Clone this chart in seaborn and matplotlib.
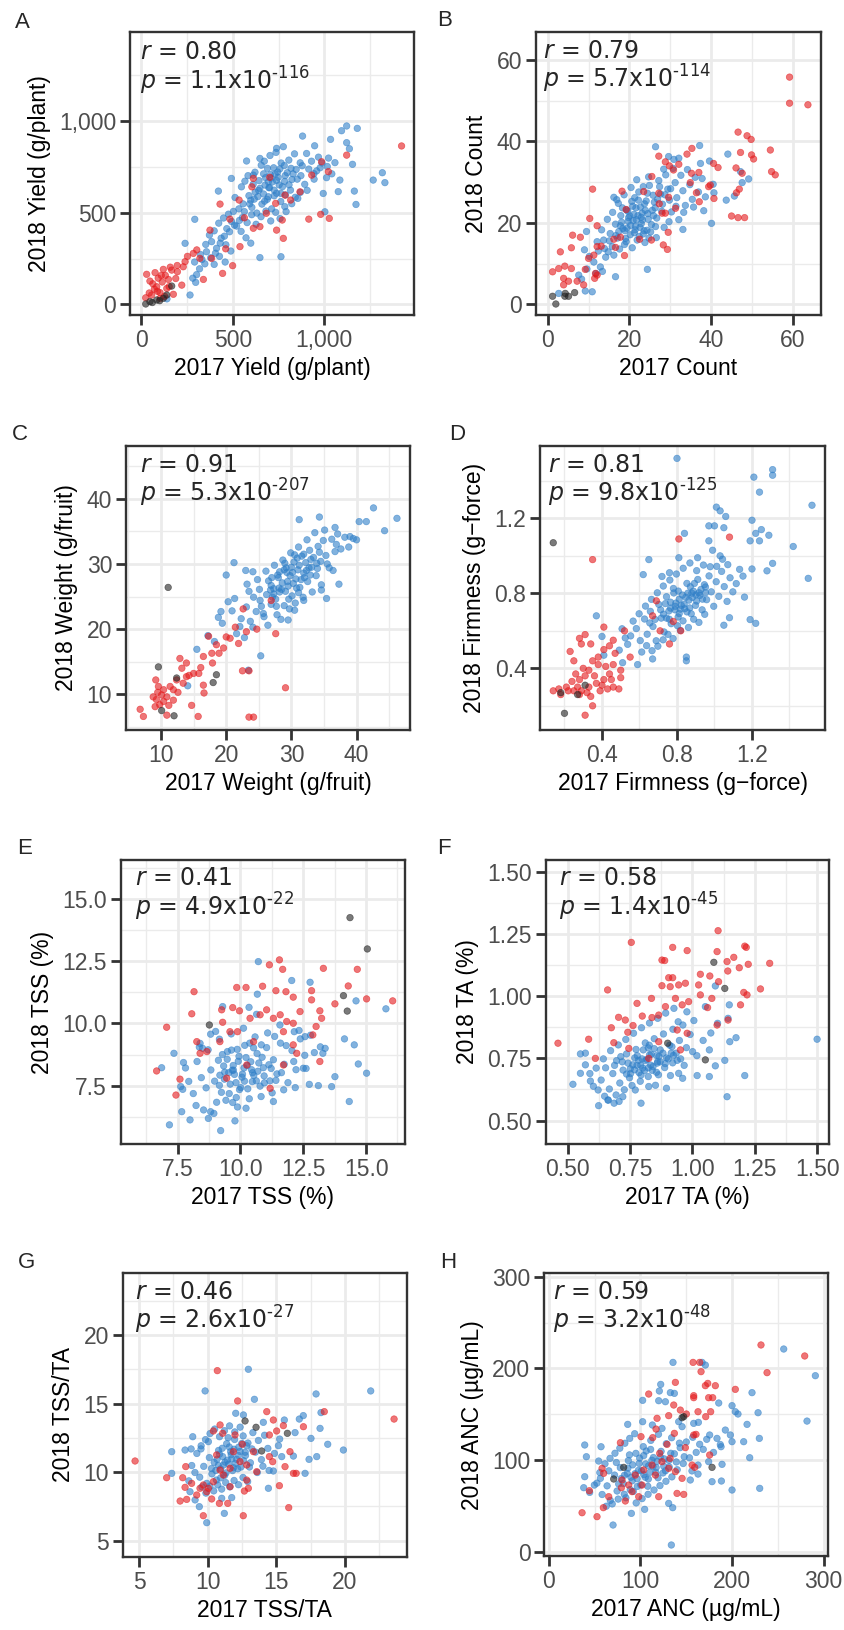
import matplotlib
matplotlib.use('Agg')  # no display
import pandas as pd
import matplotlib.pyplot as plt
from matplotlib.ticker import AutoMinorLocator
import seaborn as sns

# ---- data (2017 value, 2018 value) ----
# blue = main set, red = second set, black = checks

yield_blue = [(1122,973),(1180,960),(1094,947),(881,918),(1034,900),(1122,882),(1137,849),(947,865),(1267,678),
    (1317,718),(1331,664),(1173,545),(1164,618),(1058,773),(1154,764),(1085,678),(1076,615),(994,605),(1003,505),
    (648,255),(763,260),(266,51),(297,120),(239,333),(292,464),(421,618),(492,687),(575,782),(648,796),(739,851),
    (776,860),(612,705),(140,30),
    (512,583),(547,641),(583,702),(611,655),(637,588),(668,712),(694,668),(723,745),(748,693),(771,642),(797,718),
    (823,681),(846,736),(872,702),(893,655),(915,738),(604,529),(631,498),(659,547),(688,573),(712,521),(739,606),
    (762,561),(788,597),(815,623),(841,584),(869,611),(552,473),(578,446),(603,489),(627,437),(654,478),(681,509),
    (707,455),(734,502),(758,468),(784,533),(467,413),(493,452),(521,427),(545,398),(572,363),(598,334),(436,361),
    (462,325),(489,291),(411,306),(384,342),(356,287),(331,245),(398,218),(427,262),(458,231),(672,781),(703,812),
    (736,829),(764,771),(806,787),(837,821),(868,772),(903,823),(958,728),(987,771),(1012,691),(944,683),(906,622),
    (855,578),(822,549),(791,506),(726,592),(697,636),(643,675),(588,593),(556,548),(533,521),(503,507),(476,492),
    (449,471),(423,443),(398,401),(372,378),(566,672),(621,721),(655,759),(689,742),(930,781),(968,803),(1016,752),
    (1041,712),(879,756),(852,683),(818,742),(781,757),(745,722),(709,689),(676,651),(641,622),(617,574),(592,548),
    (563,506),(536,458),(509,432),(482,396),(454,372),(431,334),(405,279),(379,254),(347,221),(318,194),(302,162),
    (281,143),(352,327),(323,272),(291,231),(943,713),(977,745),(1023,798),
    (668,602),(701,637),(726,623),(753,652),(694,587),(739,676),(763,605),(716,668),(783,671),(648,633),(679,691),
    (731,711),(807,652),(674,563),(757,739),(829,712),(786,702),(622,612),(598,568),(705,709)]
yield_red = [(1422,864),(1122,814),(985,778),(1022,724),(931,705),(915,465),(980,491),(1027,469),(776,360),(739,405),
    (444,169),(499,211),(339,136),(29,164),(75,173),(120,191),(166,187),(229,205),(239,233),(221,105),(175,55),
    (139,87),(84,96),(56,51),(24,36),(102,64),(148,136),(430,547),(534,569),(612,687),(648,424),(612,415),(484,465),
    (375,405),(320,251),(384,251),(539,315),(284,278),(867,614),(816,569),(734,551),(770,460),(785,596),(63,112),
    (92,143),(114,122),(131,158),(71,83),(43,62),(158,203),(197,178),(188,141),(103,33),(127,44),(252,262),
    (303,297),(461,303),(563,472),(683,497),(604,641),(702,693),(47,127),(88,71),(109,158),(152,97),(196,212)]
yield_black = [(24,2),(47,15),(84,24),(120,33),(166,100),(139,51),(60,10),(100,20)]

count_blue = [(26.4,38.7),(37.2,39.0),(29.6,36.3),(32.1,35.9),(44.1,36.9),(39.6,35.2),(37.4,34.6),(47.2,32.6),
    (49.2,30.8),(47.6,29.9),(40.5,29.5),(40.7,27.4),(43.7,25.6),(45.7,26.6),(40.1,19.9),(33.1,18.4),(38.2,23.0),
    (16.2,26.3),(24.4,8.6),(16.6,6.8),(9.2,3.3),(10.9,3.1),(2.7,2.7),(9.5,17.9),(9.0,13.4),(7.6,7.2),
    (12.4,13.1),(13.7,15.8),(14.2,11.6),(15.3,17.4),(15.8,14.2),(16.6,19.7),(17.1,16.3),(17.9,21.8),(18.4,18.6),
    (18.8,14.7),(19.3,23.2),(19.7,20.4),(20.2,17.1),(20.6,25.3),(21.1,22.1),(21.5,19.2),(21.9,15.8),(22.3,27.6),
    (22.7,23.9),(23.2,20.7),(23.6,18.1),(24.1,25.4),(24.5,22.3),(24.9,29.2),(25.4,19.6),(25.8,26.8),(26.3,23.7),
    (26.7,21.2),(27.2,30.4),(27.6,27.1),(28.1,24.6),(28.5,18.9),(28.9,31.8),(29.4,28.3),(29.8,25.6),(30.3,22.7),
    (30.7,33.4),(31.2,29.9),(31.6,26.2),(32.1,20.8),(32.6,31.7),(33.1,27.9),(33.7,24.3),(34.2,33.1),(34.8,29.4),
    (35.4,25.8),(36.1,31.2),(36.9,27.6),(37.8,30.9),(38.6,26.4),(13.2,18.3),(14.6,20.9),(15.9,22.6),(17.3,24.8),
    (18.7,26.9),(20.4,28.7),(21.8,30.6),(11.3,10.4),(12.9,9.2),(14.8,12.9),(16.2,12.1),(17.6,13.6),(19.1,16.2),
    (20.7,13.9),(22.4,16.7),(23.8,15.2),(25.2,17.8),(26.6,16.4),(10.2,11.8),(9.6,8.7),(11.8,7.6),(13.4,8.1),
    (8.3,6.2),(12.1,15.4),(16.9,25.7),(19.8,21.3),(22.9,19.8),(24.3,18.2),(26.1,25.1),(27.9,22.9),(29.7,20.3),
    (31.4,24.1),(33.3,22.6),(35.7,23.9),(21.3,26.2),(23.4,28.9),(18.1,20.2),(15.1,15.6),(13.9,13.7),(24.7,31.3),
    (28.4,33.2),(30.9,35.6),(20.9,20.6),(22.1,21.8),(19.4,18.7),(23.9,23.1),(17.4,17.9),(21.6,23.7),
    (20.3,19.4),(21.7,20.8),(22.6,18.9),(23.1,22.4),(19.6,22.9),(21.2,17.6),(24.6,20.9),(20.8,24.1),(22.2,25.6),
    (18.9,18.1),(23.7,24.7),(25.6,23.1),(26.9,25.8),(19.2,15.4),(17.8,19.3),(24.4,27.3),(27.4,28.9),(22.9,21.4),
    (21.4,18.3),(20.1,21.7),(23.4,17.3),(25.9,21.8),(18.3,23.7),(16.7,16.9),(28.7,26.9),(30.1,28.4),(26.4,19.1),
    (24.8,16.3)]
count_red = [(59.2,55.8),(59.2,49.4),(63.7,49.0),(46.6,42.3),(48.8,41.4),(49.8,40.5),(54.5,37.9),(49.9,36.7),
    (50.4,35.7),(47.2,37.3),(54.8,32.6),(55.7,31.8),(46.1,33.5),(47.6,32.2),(46.9,28.3),(46.2,27.4),(45.0,21.7),
    (46.6,21.3),(48.2,21.3),(40.6,34.6),(41.7,33.6),(40.7,26.0),(39.8,29.3),(39.4,28.9),(35.3,38.3),(34.1,36.9),
    (32.1,34.4),(30.8,33.0),(27.2,36.4),(28.8,35.0),(29.8,34.0),(37.0,32.4),(35.2,32.2),(36.4,27.4),(37.1,25.2),
    (34.9,29.9),(11.0,28.3),(18.2,27.8),(10.3,21.1),(12.1,19.3),(6.1,17.0),(8.0,16.5),(5.8,13.9),(3.1,12.9),
    (1.2,8.0),(2.7,8.8),(4.2,9.4),(5.8,8.8),(3.9,6.4),(5.1,5.7),(3.9,4.8),(7.2,5.7),(8.8,4.8),(9.2,8.6),
    (10.0,11.3),(11.3,12.1),(11.7,7.6),(11.5,6.4),(12.1,7.2),(12.1,14.2),(13.1,14.3),(16.2,16.0),(16.6,14.0),
    (18.8,12.0),(19.2,23.3),(17.8,16.5),(22.5,16.0),(25.4,15.8),(28.3,14.6),(29.3,13.5),(29.5,17.7),(28.0,22.4),
    (27.3,24.7),(29.6,26.3),(28.8,22.4),(31.3,23.6),(27.2,27.3),(23.5,27.7),(25.5,31.4)]
count_black = [(1.2,2.0),(2.0,0.1),(4.2,2.0),(5.1,2.0),(6.6,2.9),(4.3,2.7)]

weight_blue = [(42.6,38.6),(46.2,37.0),(40.4,36.5),(41.5,36.5),(34.3,37.2),(31.2,36.8),(44.3,35.1),(36.7,35.6),
    (40.0,33.7),(39.0,34.2),(21.2,30.2),(20.0,28.3),(23.0,29.0),(24.1,28.8),(23.2,26.9),(37.3,26.9),(34.6,26.0),
    (35.4,24.7),(20.3,24.2),(18.8,21.8),(19.2,22.7),(25.3,15.9),(15.5,16.9),(17.2,19.0),(14.1,11.3),(23.4,13.7),
    (29.5,21.4),(30.5,22.9),(31.9,24.4),
    (22.3,21.6),(23.1,23.4),(23.7,21.2),(24.2,24.9),(24.6,22.7),(25.1,26.1),(25.4,23.5),(25.8,21.9),(26.2,25.3),
    (26.5,27.4),(26.9,23.8),(27.3,26.2),(27.6,24.6),(27.9,28.3),(28.2,25.7),(28.6,27.1),(28.9,23.6),(29.2,29.4),
    (29.5,26.6),(29.8,28.2),(30.1,25.1),(30.4,30.3),(30.7,27.7),(31.0,29.1),(31.3,26.4),(31.6,31.2),(31.9,28.6),
    (32.2,30.2),(32.5,27.3),(32.8,32.1),(33.1,29.5),(33.4,31.0),(33.8,28.2),(34.1,32.7),(34.5,30.4),(34.9,33.6),
    (35.3,31.3),(35.8,29.4),(36.2,33.8),(36.7,31.9),(37.1,34.6),(37.6,32.3),(38.2,34.1),(38.8,32.6),(39.5,33.9),
    (21.6,19.3),(22.8,18.7),(20.9,22.8),(24.1,20.3),(25.7,22.4),(26.4,20.6),(27.8,22.2),(28.4,21.5),(29.7,23.1),
    (30.6,24.0),(31.8,24.9),(33.2,25.7),(34.6,26.8),(23.5,25.8),(24.8,27.6),(26.1,28.9),(27.4,29.8),(28.7,30.6),
    (29.9,31.7),(31.1,32.6),(32.4,33.7),(33.6,34.8),(35.1,35.2),(26.8,26.0),(28.0,27.9),(30.2,28.7),(32.0,27.9),
    (33.9,30.1),(35.5,30.0),(36.4,29.0),(25.2,24.4),(27.1,24.9),(29.1,25.8),(31.5,27.6),(19.4,20.9),(18.2,18.1),
    (21.3,24.7),(22.1,20.4),(36.9,33.0),(34.3,31.8),(28.1,26.3),(30.9,30.9),(32.7,29.4),(27.0,27.9),(29.4,27.3),
    (29.3,28.7),(30.3,27.0),(31.2,29.8),(28.5,26.1),(27.3,25.4),(32.3,29.0),(30.8,26.3),(29.0,30.1),(33.0,30.7),
    (31.9,31.5),(28.2,28.8),(26.9,26.7),(30.0,29.5),(34.0,29.3),(27.7,23.5),(29.6,24.6),(32.9,28.3),(31.1,25.6),
    (30.5,31.4),(28.9,29.1)]
weight_red = [(9.6,11.2),(9.2,12.2),(9.8,8.4),(6.8,7.7),(7.3,6.6),(10.9,6.8),(12.9,15.5),(13.2,14.0),(12.4,12.2),
    (14.7,8.3),(15.7,6.6),(16.5,11.4),(16.6,10.2),(17.3,18.9),(18.5,17.6),(18.9,16.3),(20.0,18.8),(21.4,20.3),
    (22.6,23.1),(22.5,13.6),(23.5,13.6),(23.5,6.5),(24.2,6.5),(29.1,11.0),(27.6,19.3),(26.9,24.4),(24.7,20.0),
    (23.1,19.6),(21.9,17.8),(20.6,18.6),(19.6,17.1),(17.8,16.3),(16.5,15.8),(15.0,13.2),(13.9,12.7),(13.4,11.7),
    (11.9,10.7),(10.9,9.6),(10.4,8.9),(8.8,9.6),(9.1,8.1),(11.4,11.2),(10.4,10.7),(9.3,9.2),(11.9,9.1),
    (13.9,14.8),(15.8,13.2),(17.9,14.8),(10.1,9.9),(11.2,8.3),(12.6,10.3),(14.3,12.9),(16.1,14.1),(9.5,10.3)]
weight_black = [(9.6,14.2),(11.1,26.4),(12.4,12.5),(18.5,13.0),(18.0,11.8),(10.1,7.5),(12.0,6.7)]

firm_blue = [(0.80,1.52),(1.31,1.46),(1.31,1.43),(1.21,1.42),(1.24,1.34),(1.52,1.27),(1.01,1.26),(1.03,1.24),
    (1.06,1.21),(0.97,1.16),(1.00,1.16),(1.05,1.15),(1.20,1.19),(1.25,1.14),(1.22,1.12),(1.29,1.11),(0.84,1.12),
    (1.19,1.08),(1.24,1.08),(1.42,1.05),(1.31,0.96),(1.28,0.92),(1.50,0.88),(1.20,0.93),(1.16,0.78),(1.19,0.66),
    (1.22,0.64),(1.08,0.67),(1.05,0.63),(0.65,0.98),(0.62,0.90),(0.81,0.99),(0.37,0.68),(0.41,0.47),(0.59,0.42),
    (0.51,0.43),(0.40,0.57),(0.85,0.46),(0.85,0.44),(0.67,0.45),(0.97,1.08),(0.99,1.03),(1.03,1.00),(0.91,0.99),
    (0.76,0.91),(0.72,0.89),
    (0.583,0.612),(0.604,0.548),(0.627,0.663),(0.641,0.582),(0.658,0.704),(0.672,0.623),(0.689,0.547),(0.703,0.741),
    (0.716,0.668),(0.731,0.594),(0.744,0.782),(0.757,0.706),(0.769,0.638),(0.781,0.826),(0.794,0.748),(0.806,0.674),
    (0.818,0.602),(0.829,0.791),(0.841,0.718),(0.853,0.853),(0.864,0.764),(0.876,0.691),(0.887,0.812),(0.899,0.736),
    (0.911,0.874),(0.922,0.789),(0.934,0.712),(0.946,0.846),(0.958,0.766),(0.971,0.893),(0.983,0.808),(0.996,0.731),
    (1.009,0.862),(1.023,0.784),(1.038,0.917),(1.052,0.836),(1.067,0.757),(1.083,0.883),(1.098,0.808),(0.612,0.487),
    (0.638,0.521),(0.667,0.494),(0.698,0.518),(0.726,0.552),(0.752,0.581),(0.779,0.559),(0.803,0.627),(0.832,0.653),
    (0.861,0.618),(0.889,0.662),(0.917,0.645),(0.948,0.688),(0.553,0.573),(0.537,0.528),(0.566,0.652),(0.598,0.691),
    (0.632,0.732),(0.664,0.768),(0.695,0.803),(0.727,0.839),(0.762,0.871),(0.797,0.903),(0.833,0.934),(0.869,0.962),
    (0.905,0.921),(0.941,0.951),(0.977,0.942),(0.765,0.753),(0.789,0.712),(0.812,0.769),(0.838,0.742),(0.858,0.801),
    (0.882,0.778),(0.905,0.759),(0.928,0.821),(0.952,0.803),(0.713,0.712),(0.738,0.745),(0.683,0.661),(0.655,0.642),
    (0.524,0.562),(0.507,0.611),(0.492,0.497),(1.116,0.852),(1.134,0.928),(1.152,0.892),(1.071,0.953),(1.043,0.982),
    (1.012,0.944),
    (0.823,0.736),(0.847,0.779),(0.868,0.722),(0.791,0.731),(0.812,0.692),(0.879,0.801),(0.902,0.792),(0.766,0.721),
    (0.744,0.668),(0.853,0.701),(0.917,0.803),(0.936,0.769),(0.783,0.802),(0.807,0.812),(0.728,0.689),(0.871,0.835),
    (0.893,0.853),(0.952,0.834),(0.818,0.716),(0.759,0.662)]
firm_red = [(1.08,1.10),(0.81,1.09),(0.35,0.98),(0.41,0.62),(0.28,0.56),(0.31,0.58),(0.23,0.49),(0.25,0.44),
    (0.41,0.50),(0.46,0.55),(0.44,0.52),(0.47,0.48),(0.50,0.39),(0.50,0.35),(0.49,0.29),(0.31,0.15),(0.35,0.20),
    (0.14,0.28),(0.17,0.29),(0.21,0.30),(0.25,0.28),(0.26,0.37),(0.30,0.40),(0.35,0.44),(0.38,0.42),(0.42,0.41),
    (0.46,0.42),(0.44,0.37),(0.41,0.34),(0.37,0.32),(0.33,0.30),(0.29,0.28),(0.28,0.26),(0.34,0.25),(0.39,0.28),
    (0.43,0.29),(0.46,0.30),(0.31,0.36),(0.28,0.34),(0.22,0.28),(0.18,0.26),(0.55,0.46),(0.52,0.60),(0.69,0.76),
    (0.78,0.65),(0.76,0.53),(0.82,0.60),(0.67,0.68),(0.71,0.60),(0.29,0.53),(0.34,0.53),(0.24,0.33),(0.32,0.27),
    (0.36,0.36),(0.40,0.31),(0.27,0.30),(0.33,0.39),(0.45,0.34),(0.38,0.46)]
firm_black = [(0.14,1.07),(0.18,0.27),(0.27,0.26),(0.20,0.16),(0.31,0.31)]

tss_blue = [(10.71,12.49),(12.04,11.73),(12.77,11.66),(10.67,11.18),(9.29,10.68),(10.34,10.65),(10.64,10.37),
    (14.60,10.91),(15.79,10.59),(14.14,9.38),(14.53,9.14),(14.69,8.37),(15.02,8.00),(13.76,7.86),(13.63,7.46),
    (13.10,7.50),(12.74,7.55),(14.33,6.86),(13.37,9.00),(13.28,8.80),(6.86,8.22),(7.35,8.80),(7.73,8.43),(7.17,5.92),
    (7.66,6.45),(7.99,6.12),(8.72,6.18),(9.21,5.69),(9.78,6.08),(9.69,6.82),(10.22,6.59),(11.31,6.86),(8.23,6.70),
    (8.81,6.45),(7.70,7.35),(8.39,9.20),(8.49,9.00),(8.81,9.57),(12.14,9.67),(12.57,9.47),(12.50,8.20),
    (8.63,7.41),(8.82,8.13),(8.97,7.68),(9.12,8.52),(9.24,7.23),(9.37,8.04),(9.48,8.87),(9.59,7.56),(9.71,8.31),
    (9.83,7.02),(9.94,8.68),(10.06,7.84),(10.17,9.12),(10.29,7.37),(10.41,8.46),(10.53,7.91),(10.66,8.79),
    (10.78,7.48),(10.91,8.22),(11.04,9.03),(11.17,7.69),(11.31,8.54),(11.45,7.97),(11.59,9.21),(11.74,8.36),
    (11.89,7.62),(12.05,8.91),(12.21,8.14),(12.38,9.38),(12.56,8.72),(9.05,6.83),(9.42,6.91),(9.88,6.64),
    (10.35,6.97),(10.82,7.06),(11.26,7.21),(11.72,7.33),(12.18,7.42),(8.44,7.82),(8.27,8.47),(8.12,7.18),
    (7.94,7.67),(8.71,8.94),(9.16,9.37),(9.63,9.58),(10.12,9.81),(10.58,9.46),(11.08,9.62),(11.57,9.94),
    (9.33,8.29),(9.76,7.95),(10.22,8.63),(10.69,8.08),(11.13,8.34),(11.63,8.02),(12.12,8.47),(12.61,8.19),
    (12.94,8.83),(13.18,9.06),(9.55,7.18),(10.01,7.42),(10.47,7.66),(10.94,7.89),(11.41,7.71),(8.53,6.52),
    (8.94,6.38),(7.62,7.46),(7.81,8.21),(8.36,9.05),(9.01,9.68),(9.87,8.96),(10.37,9.21),(10.83,9.14),
    (11.36,9.48),(11.82,9.11),(12.33,9.72),(12.79,9.53),(9.18,7.92),(9.67,8.12),(10.14,8.21),(10.48,8.02),
    (9.72,8.12),(9.91,8.48),(10.08,7.96),(10.27,8.31),(9.53,8.02),(9.82,7.62),(10.44,8.14),(10.63,7.69),
    (9.36,7.76),(9.47,8.56),(10.16,7.68),(9.96,7.34),(10.73,8.41),(10.95,7.61),(9.28,8.75),(10.52,9.02),
    (9.64,8.93),(11.22,8.19),(9.16,7.51),(10.86,8.64)]
tss_red = [(11.55,12.56),(11.15,12.36),(11.68,12.18),(13.30,12.22),(14.65,12.18),(14.29,11.51),(15.02,10.99),
    (16.06,10.91),(13.76,10.79),(8.15,11.28),(8.06,10.39),(7.06,9.85),(6.66,8.09),(7.59,7.76),(7.43,7.12),
    (9.85,11.45),(10.22,11.45),(10.88,11.50),(11.41,11.32),(11.81,11.28),(12.10,11.06),(12.83,11.32),(12.83,10.95),
    (13.16,10.51),(13.23,10.21),(13.01,9.88),(12.88,9.54),(9.69,10.64),(9.96,10.51),(9.25,10.55),(9.29,10.05),
    (9.58,9.67),(9.88,9.67),(10.38,10.21),(10.78,10.35),(11.04,10.55),(11.31,10.21),(11.58,10.35),(11.84,10.08),
    (12.10,10.01),(12.37,10.48),(11.71,9.67),(12.10,9.14),(12.24,8.80),(8.26,9.27),(8.39,8.80),(8.66,8.87),
    (9.18,9.27),(9.45,7.80),(10.25,8.33),(10.52,9.27),(11.18,7.39),(11.71,8.33),(13.16,8.47)]
tss_black = [(14.36,14.26),(15.05,13.0),(14.10,11.12),(14.25,10.5),(8.76,9.94)]

ta_blue = [(1.500,0.827),(1.210,0.681),(1.139,0.596),(1.130,0.742),(1.150,0.817),(1.175,0.833),(1.148,0.965),
    (1.143,0.911),(1.092,0.720),(1.068,0.677),(1.068,0.784),(1.019,0.681),(1.052,0.958),(1.092,1.041),(0.521,0.646),
    (0.551,0.768),(0.571,0.771),(0.551,0.690),(0.591,0.659),(0.622,0.623),(0.624,0.560),(0.662,0.583),(0.686,0.570),
    (0.721,0.596),(0.794,0.570),(0.896,0.630),(0.961,0.670),(0.945,0.690),(1.001,0.777),(0.825,0.637),(0.771,0.623),
    (0.634,0.663),(0.652,0.712),(0.667,0.627),(0.681,0.689),(0.696,0.741),(0.709,0.651),(0.722,0.703),(0.736,0.768),
    (0.748,0.672),(0.761,0.724),(0.774,0.786),(0.786,0.693),(0.798,0.748),(0.811,0.812),(0.823,0.712),(0.835,0.766),
    (0.847,0.829),(0.859,0.731),(0.871,0.784),(0.884,0.848),(0.896,0.752),(0.909,0.803),(0.922,0.867),(0.935,0.771),
    (0.948,0.822),(0.962,0.884),(0.976,0.793),(0.991,0.846),(1.006,0.902),(0.662,0.582),(0.694,0.603),(0.727,0.624),
    (0.758,0.641),(0.791,0.658),(0.823,0.677),(0.856,0.694),(0.889,0.713),(0.921,0.732),(0.953,0.748),(0.614,0.711),
    (0.643,0.748),(0.672,0.781),(0.703,0.804),(0.733,0.826),(0.764,0.851),(0.796,0.873),(0.828,0.892),(0.861,0.911),
    (0.893,0.932),(0.926,0.951),(0.742,0.731),(0.768,0.704),(0.793,0.722),(0.817,0.746),(0.842,0.717),(0.866,0.758),
    (0.891,0.729),(0.915,0.771),(0.939,0.742),(0.589,0.689),(0.571,0.724),(0.603,0.638),(0.648,0.598),(0.706,0.577),
    (0.852,0.642),(0.912,0.681),(0.967,0.722),(1.018,0.761),(1.043,0.822),(1.074,0.852),(1.101,0.891),(0.978,0.937),
    (0.943,0.897),(0.779,0.761),(0.803,0.784),(0.827,0.803),(0.713,0.757),(0.688,0.722),(0.752,0.689),(0.808,0.701),
    (0.861,0.737),(0.924,0.762),
    (0.812,0.741),(0.833,0.723),(0.857,0.761),(0.784,0.742),(0.801,0.711),(0.871,0.736),(0.847,0.789),(0.769,0.752),
    (0.823,0.792),(0.882,0.771),(0.751,0.708),(0.794,0.683),(0.839,0.702),(0.864,0.684),(0.903,0.748),(0.918,0.797),
    (0.736,0.687),(0.719,0.736),(0.778,0.722),(0.828,0.764)]
ta_red = [(1.103,1.263),(0.755,1.216),(0.921,1.196),(0.979,1.183),(1.099,1.179),(0.878,1.145),(0.889,1.143),
    (1.210,1.201),(1.216,1.196),(1.166,1.156),(1.310,1.132),(1.139,1.139),(1.188,1.114),(1.224,1.128),(1.142,1.101),
    (1.273,1.029),(1.206,1.015),(1.219,1.005),(1.193,0.965),(0.905,1.074),(0.921,1.074),(0.878,1.042),(0.911,1.038),
    (0.972,1.052),(0.945,1.045),(1.032,1.088),(1.070,1.081),(1.025,1.045),(1.105,1.058),(1.078,0.991),(0.660,1.025),
    (0.704,0.915),(0.778,0.971),(0.836,0.991),(0.799,0.920),(0.731,0.904),(0.675,0.873),(0.762,0.882),(0.741,0.855),
    (0.461,0.811),(0.584,0.827),(0.611,0.750),(0.685,0.813),(0.838,0.914),(0.865,0.924),(0.892,0.958),(0.932,0.991),
    (0.959,0.965),(0.985,0.978),(1.032,1.005),(1.061,0.954),(1.099,0.884),(1.143,0.904),(0.979,0.851),(0.939,0.864),
    (0.952,0.784),(0.825,0.750),(0.865,0.817),(0.745,0.790)]
ta_black = [(1.086,1.136),(1.130,1.031),(0.901,0.811),(1.052,0.744)]

ratio_blue = [(12.96,17.50),(9.81,15.92),(13.40,15.31),(21.87,15.92),(17.89,15.70),(18.25,14.34),(19.88,11.61),
    (18.74,12.03),(18.18,13.19),(17.94,11.13),(17.09,9.91),(17.38,10.93),(17.52,12.46),(16.96,14.12),(16.67,13.87),
    (16.36,12.88),(16.24,11.17),(12.04,14.29),(8.91,12.58),(7.38,11.49),(7.38,9.91),(8.35,11.61),(8.79,11.69),
    (9.51,11.69),(10.05,12.22),(8.71,8.57),(9.08,7.97),(9.39,7.48),(9.93,6.31),(11.21,6.99),(11.02,8.09),
    (11.75,8.14),(14.42,8.82),(14.78,10.08),(15.39,11.13),(15.15,11.93),(15.58,13.80),(14.05,13.63),(12.60,14.17),
    (9.42,9.63),(9.71,10.42),(9.93,9.18),(10.12,11.06),(10.31,9.87),(10.47,10.71),(10.63,9.42),(10.79,11.58),
    (10.94,10.24),(11.09,11.13),(11.23,9.76),(11.38,12.07),(11.52,10.58),(11.67,11.49),(11.81,10.11),(11.96,12.38),
    (12.11,10.93),(12.26,11.82),(12.42,10.37),(12.58,12.64),(12.75,11.21),(12.93,12.12),(13.11,10.68),(13.29,12.88),
    (13.48,11.46),(13.69,12.31),(13.91,10.91),(14.14,12.69),(14.38,11.73),(9.58,8.92),(9.87,8.47),(10.16,8.98),
    (10.44,8.63),(10.73,9.07),(11.02,8.76),(11.31,9.24),(11.61,8.92),(11.92,9.39),(12.24,9.08),(12.57,9.61),
    (12.91,9.31),(9.21,11.36),(9.52,11.92),(9.84,12.37),(10.17,12.81),(10.51,13.14),(10.86,12.58),(11.22,13.02),
    (11.59,13.37),(11.97,12.93),(12.36,13.28),(10.28,10.26),(10.77,10.49),(11.26,10.73),(11.75,10.97),(12.24,11.21),
    (12.73,11.45),(13.22,11.69),(9.07,9.97),(8.84,10.48),(8.63,9.36),(13.61,9.97),(14.02,10.43),(14.47,10.12),
    (14.86,11.36),(15.24,12.41),
    (11.43,10.87),(11.71,11.27),(12.02,10.64),(11.14,10.51),(11.57,11.83),(12.36,11.51),(10.86,11.31),(11.92,11.67),
    (12.61,10.83),(11.33,9.94),(10.59,10.12),(12.19,10.24),(12.83,11.93),(11.06,11.74),(11.88,10.32),(10.68,10.93),
    (12.48,12.09),(13.04,10.37),(11.49,12.51),(10.94,9.58)]
ratio_red = [(10.70,17.40),(12.18,15.19),(14.30,14.41),(18.49,14.41),(23.57,13.87),(10.90,13.44),(10.41,13.00),
    (11.09,12.83),(11.99,12.71),(14.78,13.80),(15.51,13.39),(16.97,13.31),(15.02,13.00),(14.49,12.71),(12.52,12.03),
    (4.71,10.81),(7.01,9.59),(8.18,9.59),(8.40,10.40),(8.35,8.89),(8.83,9.18),(7.99,7.89),(8.47,8.01),(9.68,6.82),
    (12.59,6.82),(15.90,7.41),(15.22,9.01),(16.24,9.91),(16.44,9.91),(15.63,10.40),(15.99,11.49),(14.73,10.76),
    (14.49,11.13),(13.57,10.03),(12.84,9.42),(12.67,8.62),(12.96,8.82),(11.63,8.94),(11.46,7.72),(10.85,7.72),
    (10.29,8.04),(9.44,8.82),(9.68,9.06),(10.05,8.82),(10.41,9.30),(10.90,10.15),(11.14,9.79),(11.63,10.28),
    (12.35,10.76),(12.84,10.52),(13.33,11.49),(11.87,11.49),(10.65,11.25),(9.93,8.57),(9.20,8.33)]
ratio_black = [(12.72,13.73),(13.52,13.27),(15.80,12.83),(13.93,11.54)]

anc_blue = [(256.4,221.1),(290.9,192.0),(281.8,142.5),(135.6,206.5),(167.3,206.5),(170.9,203.6),(122.2,182.5),
    (120.7,175.3),(132.7,173.5),(137.1,172.7),(221.8,173.5),(102.5,165.1),(120.0,164.7),(127.3,163.6),(185.5,162.2),
    (200.0,159.3),(203.6,152.7),(206.5,150.2),(228.4,151.6),(216.4,138.9),(212.7,120.0),(229.8,123.6),(219.3,102.5),
    (230.2,69.1),(200.0,67.3),(188.4,77.1),(178.2,76.4),(189.1,95.3),(162.9,84.7),(154.5,78.2),(130.9,52.7),
    (135.3,48.0),(133.8,7.3),(70.2,29.1),(90.2,41.8),(104.7,46.2),(39.3,116.4),(41.1,103.6),(39.3,81.8),(38.2,69.8),
    (44.7,64.7),(49.8,72.7),(56.4,80.0),(54.5,98.9),(57.1,114.5),(86.2,138.9),(102.5,141.8),(113.1,138.2),
    (123.6,134.5),(141.8,141.8),(145.5,136.4),(158.2,140.0),(163.3,141.1),(175.6,127.3),(183.6,123.6),(192.7,132.7),
    (198.2,127.3),(200.0,120.0),(188.0,114.5),(174.5,98.2),(162.9,94.5),
    (58.3,62.4),(63.7,71.8),(67.2,55.9),(71.9,83.6),(74.6,66.2),(78.1,91.7),(81.4,74.3),(84.2,58.8),(86.9,99.4),
    (89.7,81.2),(92.3,65.7),(95.1,107.3),(97.8,88.6),(100.4,72.9),(103.2,114.6),(105.9,95.8),(108.7,79.3),
    (111.4,121.4),(114.2,102.7),(116.9,86.4),(119.8,128.1),(122.6,109.5),(125.5,93.2),(128.3,117.8),(131.2,99.6),
    (134.1,124.3),(137.1,106.8),(140.2,89.4),(143.4,113.5),(146.7,96.2),(150.1,119.7),(153.6,102.4),(157.2,124.8),
    (160.9,108.3),(164.7,117.2),(168.6,111.6),(52.6,74.8),(55.8,86.3),(61.4,95.9),(66.9,101.8),(72.3,107.4),
    (77.6,112.9),(83.1,118.3),(88.4,123.6),(93.8,128.7),(62.8,49.6),(69.3,52.1),(75.8,57.4),(82.4,62.7),(88.9,67.8),
    (95.4,53.2),(101.9,57.9),(108.4,62.6),(114.9,67.3),(121.4,72.1),(127.9,76.8),(134.4,81.6),(65.6,88.2),
    (73.8,97.3),(91.6,94.7),(99.2,102.1),(106.3,109.8),(113.7,93.1),(118.4,98.6),(124.7,85.9),(131.5,92.4),
    (139.2,97.9),(147.8,103.6),(156.3,88.1),(96.4,79.6),(103.8,84.1),(85.7,85.3),(79.2,79.8),(110.6,86.7),
    (126.1,101.2),(142.6,118.4),(172.4,122.6),(179.8,108.3),(187.2,116.9),
    (101.3,88.4),(108.9,93.7),(94.2,85.1),(112.6,99.8),(98.7,96.3),(86.4,91.2),(105.4,81.2),(117.2,91.8),
    (121.8,103.4),(91.1,77.3),(103.7,104.9),(111.2,111.6),(82.6,83.4),(96.7,71.2),(119.3,80.6),(127.4,88.3),
    (88.1,105.6),(108.1,71.4),(133.2,107.4),(76.3,73.9)]
anc_red = [(231.6,225.5),(279.3,213.5),(238.2,195.3),(157.5,206.5),(164.7,206.5),(166.2,196.4),(170.9,181.1),
    (173.5,183.6),(181.8,181.1),(203.6,177.1),(109.1,172.0),(138.2,184.7),(158.2,170.2),(158.2,168.0),(174.5,168.0),
    (178.9,168.0),(162.9,152.7),(176.7,152.7),(171.3,147.3),(136.4,160.0),(143.6,154.5),(150.2,150.2),(130.9,148.4),
    (118.2,145.5),(137.1,129.1),(158.2,127.3),(160.7,128.0),(175.6,105.5),(149.1,113.5),(156.4,94.5),(159.3,92.0),
    (145.5,80.0),(147.3,62.5),(140.0,63.6),(117.1,133.8),(113.5,124.4),(129.1,117.1),(121.1,107.3),(100.7,125.5),
    (78.2,118.9),(58.2,90.9),(60.0,85.5),(44.4,66.5),(65.5,60.0),(59.6,48.0),(36.4,42.5),(52.7,38.2),(79.3,69.8),
    (83.6,55.3),(98.2,60.0),(120.0,60.0),(87.3,72.7),(94.5,83.6),(103.6,89.1),(112.7,94.5),(123.6,98.2),(130.9,90.9),
    (116.4,83.6),(101.8,72.7),(90.9,65.5),(80.0,78.2),(138.2,87.3),(132.4,101.8)]
anc_black = [(70.9,79.3),(81.8,92.0),(178.2,92.0),(147.3,147.3),(145.5,146.2)]

# correlation annotations
r_values = ['0.80', '0.79', '0.91', '0.81', '0.41', '0.58', '0.46', '0.59']
p_mantissa = ['1.1', '5.7', '5.3', '9.8', '4.9', '1.4', '2.6', '3.2']
p_exponent = ['116', '114', '207', '125', '22', '45', '27', '48']

traits = ['Yield (g/plant)', 'Count', 'Weight (g/fruit)', 'Firmness (g\u2212force)',
          'TSS (%)', 'TA (%)', 'TSS/TA', 'ANC (\u00b5g/mL)']
panel_letters = ['A', 'B', 'C', 'D', 'E', 'F', 'G', 'H']

tick_values = [[0, 500, 1000], [0, 20, 40, 60], [10, 20, 30, 40], [0.4, 0.8, 1.2],
               [7.5, 10, 12.5, 15], [0.5, 0.75, 1.0, 1.25, 1.5], [5, 10, 15, 20], [0, 100, 200, 300]]
tick_labels = [['0', '500', '1,000'], ['0', '20', '40', '60'], ['10', '20', '30', '40'], ['0.4', '0.8', '1.2'],
               ['7.5', '10.0', '12.5', '15.0'], ['0.50', '0.75', '1.00', '1.25', '1.50'],
               ['5', '10', '15', '20'], ['0', '100', '200', '300']]

groups = [(yield_blue, yield_red, yield_black), (count_blue, count_red, count_black),
          (weight_blue, weight_red, weight_black), (firm_blue, firm_red, firm_black),
          (tss_blue, tss_red, tss_black), (ta_blue, ta_red, ta_black),
          (ratio_blue, ratio_red, ratio_black), (anc_blue, anc_red, anc_black)]

# ---- layout (pixels in an 844 x 1630 canvas) ----
W, H = 844, 1630
axes_px = [(130, 32.3, 414, 315), (536, 32.3, 821, 315),
           (126, 446, 410, 730), (540.3, 446, 825.3, 730),
           (120.7, 860, 405, 1144), (546, 860, 829.3, 1144),
           (122.7, 1273.3, 406.7, 1556.7), (544.3, 1273.3, 828, 1556)]
limits = [((-62, 1490), (-58, 1484)), ((-2.86, 66.9), (-2.6, 66.8)),
          ((4.63, 48.2), (4.52, 48.1)), ((0.071, 1.591), (0.071, 1.586)),
          ((5.23, 16.55), (5.15, 16.58)), ((0.413, 1.549), (0.406, 1.547)),
          ((3.81, 24.49), (3.83, 24.5)), ((-4.8, 304.7), (-4.7, 303.7))]
letter_px = [(15, 22.5), (437, 21), (12, 435), (449, 435), (17, 849), (437, 849), (18, 1262), (440, 1262)]
note_dx = [10, 6.7, 14, 7.7, 14.3, 12.7, 12.3, 8.7]

palette = {'blue': '#2F7FC8', 'red': '#E41A1C', 'black': '#222222'}

sns.set_style('white')
plt.rcParams['font.family'] = ['Liberation Sans', 'DejaVu Sans']
plt.rcParams['mathtext.fontset'] = 'dejavusans'

fig = plt.figure(figsize=(W / 100, H / 100), dpi=100)

for i in range(8):
    l, t, r, b = axes_px[i]
    ax = fig.add_axes([l / W, 1 - b / H, (r - l) / W, (b - t) / H])

    blue, red, black = groups[i]
    frames = []
    for name, pts in (('blue', blue), ('red', red), ('black', black)):
        d = pd.DataFrame(pts, columns=['x', 'y'])
        d['grp'] = name
        frames.append(d)
    df = pd.concat(frames, ignore_index=True)

    sns.scatterplot(data=df, x='x', y='y', hue='grp', palette=palette, s=22, alpha=0.6,
                    edgecolor='face', linewidth=0.5, legend=False, ax=ax, zorder=3)

    ax.set_xlim(*limits[i][0])
    ax.set_ylim(*limits[i][1])
    ax.set_xticks(tick_values[i], tick_labels[i])
    ax.set_yticks(tick_values[i], tick_labels[i])
    ax.xaxis.set_minor_locator(AutoMinorLocator(2))
    ax.yaxis.set_minor_locator(AutoMinorLocator(2))

    ax.set_axisbelow(True)
    ax.grid(which='major', color='#EBEBEB', lw=2.0)
    ax.grid(which='minor', color='#EBEBEB', lw=1.0)
    ax.tick_params(which='major', length=7, width=2.0, color='#333333', labelcolor='#4D4D4D',
                   labelsize=16.5, pad=3, bottom=True, left=True)
    ax.tick_params(which='minor', length=0)
    for sp in ax.spines.values():
        sp.set_color('#333333')
        sp.set_linewidth(1.7)

    ax.set_xlabel('2017 ' + traits[i], fontsize=16.5, color='black', labelpad=4)
    ax.set_ylabel('2018 ' + traits[i], fontsize=16.5, color='black', labelpad=6)

    axw, axh = r - l, b - t
    top_r, top_p = (27, 57) if i == 0 else (25.5, 55.5)
    ax.text(note_dx[i] / axw, 1 - top_r / axh, '$r$ = ' + r_values[i], transform=ax.transAxes,
            fontsize=17, family='DejaVu Sans', va='baseline', ha='left', zorder=5)
    ax.text(note_dx[i] / axw, 1 - top_p / axh,
            '$p$ = ' + p_mantissa[i] + 'x10$^{\u2010' + p_exponent[i] + '}$',
            transform=ax.transAxes, fontsize=17, family='DejaVu Sans', va='baseline', ha='left', zorder=5)

    lx, ly = letter_px[i]
    fig.text(lx / W, 1 - ly / H, panel_letters[i], fontsize=16, ha='left', va='center')

fig.savefig('out.png', dpi=100)
